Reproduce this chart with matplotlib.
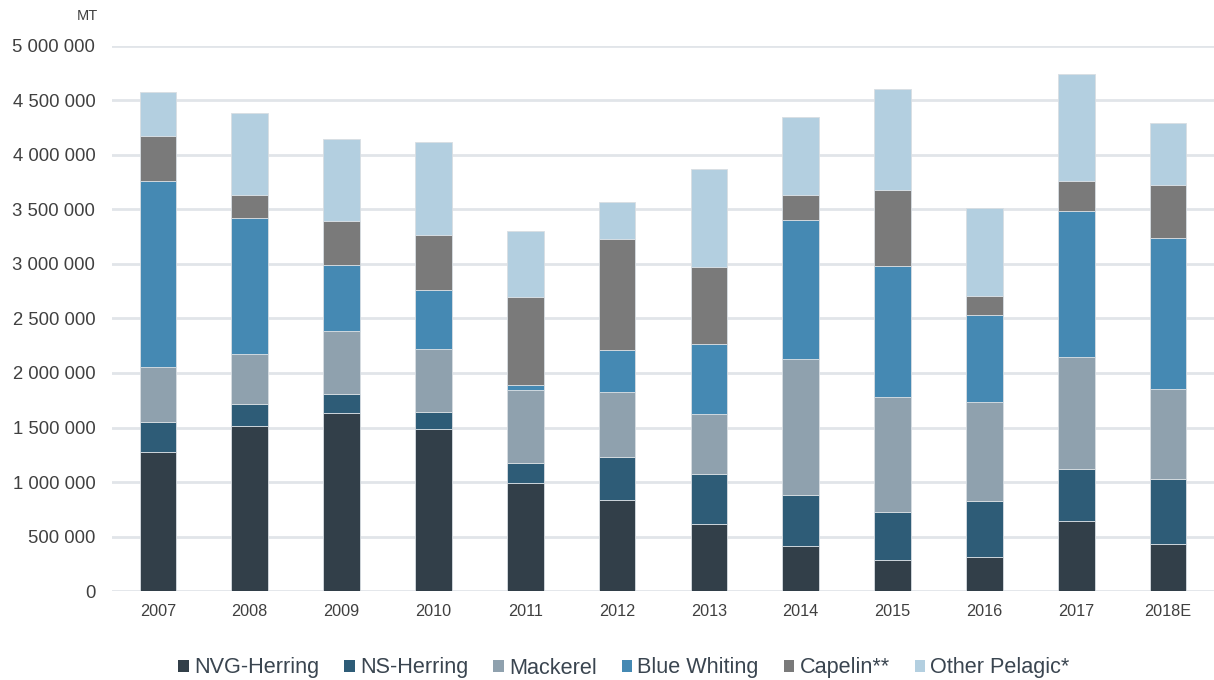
import matplotlib
matplotlib.use("Agg")
import matplotlib.pyplot as plt
from matplotlib.patches import Patch
from matplotlib.ticker import FuncFormatter

plt.rcParams['font.family'] = ['Liberation Sans', 'DejaVu Sans']

years = ['2007', '2008', '2009', '2010', '2011', '2012', '2013',
         '2014', '2015', '2016', '2017', '2018E']

# catch in million tonnes
nvg_herring = [1.273, 1.511, 1.636, 1.484, 0.989, 0.834, 0.614, 0.413, 0.284, 0.315, 0.640, 0.432]
ns_herring = [0.278, 0.205, 0.174, 0.161, 0.184, 0.399, 0.463, 0.473, 0.441, 0.514, 0.483, 0.599]
mackerel = [0.504, 0.458, 0.575, 0.575, 0.671, 0.593, 0.547, 1.243, 1.054, 0.905, 1.025, 0.823]
blue_whiting = [1.701, 1.249, 0.601, 0.537, 0.043, 0.387, 0.644, 1.277, 1.204, 0.798, 1.340, 1.379]
capelin = [0.414, 0.207, 0.409, 0.504, 0.809, 1.017, 0.706, 0.224, 0.697, 0.174, 0.271, 0.488]
other_pelagic = [0.400, 0.749, 0.746, 0.856, 0.607, 0.336, 0.895, 0.716, 0.918, 0.801, 0.984, 0.565]

series = [
    ('NVG-Herring', nvg_herring, '#323f49'),
    ('NS-Herring', ns_herring, '#2e5c77'),
    ('Mackerel', mackerel, '#8fa1ae'),
    ('Blue Whiting', blue_whiting, '#4589b3'),
    ('Capelin**', capelin, '#7a7a7a'),
    ('Other Pelagic*', other_pelagic, '#b3cfe0'),
]

fig = plt.figure(figsize=(12.14, 6.8), dpi=100)
ax = fig.add_axes([112 / 1214, 1 - 591.3 / 680, 1102 / 1214, (591.3 - 45.5) / 680])

x = range(len(years))
bottom = [0.0] * len(years)
for name, vals, color in series:
    tonnes = [v * 1e6 for v in vals]
    ax.bar(x, tonnes, width=0.4, bottom=bottom, color=color,
           edgecolor='#d8dee3', linewidth=0.6, zorder=3)
    bottom = [b + t for b, t in zip(bottom, tonnes)]

ax.set_xlim(-0.5, len(years) - 0.5)
ax.set_ylim(0, 5e6)
ax.set_yticks([i * 500000 for i in range(11)])
ax.yaxis.set_major_formatter(FuncFormatter(lambda v, p: f'{int(v):,}'.replace(',', ' ')))
ax.set_xticks(list(x))
ax.set_xticklabels(years)

ax.grid(axis='y', color='#e1e5e9', linewidth=2, zorder=0)
for s in ax.spines.values():
    s.set_visible(False)
ax.tick_params(axis='both', length=0, colors='#404040')
ax.tick_params(axis='y', labelsize=13.3, pad=12)
ax.tick_params(axis='x', labelsize=11.7, pad=9)

fig.text(98 / 1214, 1 - 16 / 680, 'MT', ha='right', va='center', fontsize=10.5, color='#404040')

handles = [Patch(facecolor=c, label=n) for n, _, c in series]
leg = fig.legend(handles=handles, loc='center', bbox_to_anchor=(624 / 1214, 1 - 668 / 680),
                 ncol=6, frameon=False, fontsize=15.6, handlelength=0.48, handleheight=0.48,
                 handletextpad=0.25, columnspacing=1.15, labelcolor='#3a4550')

fig.savefig('out.png', dpi=100)
